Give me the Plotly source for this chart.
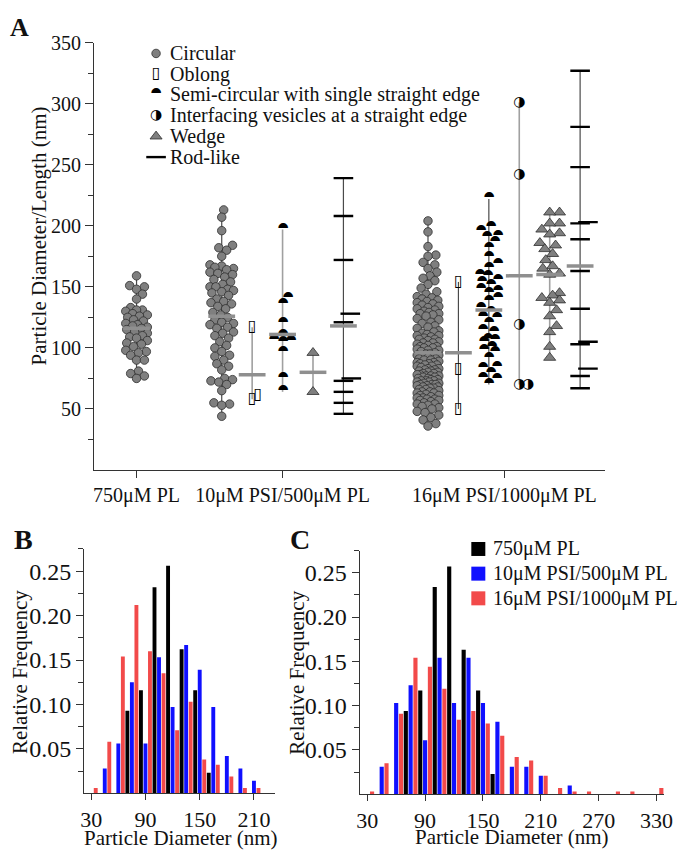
import numpy as np
import plotly.graph_objects as go

# ---------------- Panel A data (particle size, nm) ----------------
group_labels = ["750μM PL", "10μM PSI/500μM PL", "16μM PSI/1000μM PL"]
shape_names = ["Circular", "Oblong", "Semi-circular with single straight edge",
               "Interfacing vesicles at a straight edge", "Wedge", "Rod-like"]

pl750_circular = [159, 151, 150, 148, 144, 140, 133, 131, 131, 130, 128, 127, 126, 125,
                  123, 122, 120, 119, 118, 117, 116, 115, 113, 112, 110, 109, 108, 106,
                  104, 103, 101, 98, 97, 96, 94, 90, 90, 81, 79, 77, 75]

psi10_circular = [213, 207, 196, 184, 182, 180, 175, 168, 167, 166, 165, 164, 162, 161,
                  160, 158, 156, 154, 152, 150, 150, 148, 147, 146, 145, 143, 140, 138,
                  137, 136, 134, 132, 129, 127, 125, 123, 121, 120, 119, 117, 116, 113,
                  112, 110, 108, 105, 102, 100, 97, 94, 93, 90, 87, 85, 82, 75,
                  74, 73, 72, 70, 65, 55, 54, 53, 44]
psi10_oblong = [117, 58, 61]
psi10_semicircular = [197, 140, 135, 120, 110, 106, 105, 104, 96, 75, 64]
psi10_wedge = [96, 64]
psi10_rod = [239, 208, 172, 128, 121, 75, 73, 64, 55, 46]

psi16_circular = [204, 195, 183, 176, 175, 170, 168, 165, 162, 159, 157, 155, 152, 149, 146, 144,
                  142, 141, 140, 139, 138, 137, 136, 135, 134, 133, 132, 131, 130, 129, 128, 128,
                  127, 126, 124, 123, 121, 120, 118, 117, 116, 114, 113,
                  112, 111, 110, 110, 109, 108, 107, 107, 106, 105, 104, 104, 103, 102, 101, 101,
                  100, 100, 99, 98, 98,
                  97, 96, 95, 95, 94, 94, 93, 93, 92, 91, 91, 90, 90, 89, 88, 88, 87, 87, 86, 86,
                  85, 85, 84, 83, 83,
                  82, 82, 81, 81, 80, 80, 79, 79, 78, 78, 77, 77, 77, 76, 76, 75, 75, 74, 74, 73,
                  73, 73, 72, 72, 71, 71, 70, 70, 70, 69, 69, 68, 68,
                  67, 67, 66, 66, 65, 64, 64, 63, 63, 62, 61, 61, 60, 59, 59, 58, 58, 57, 57, 56,
                  55, 54, 54, 53,
                  52, 51, 50, 48, 47, 45, 43, 41, 38, 36]
psi16_oblong = [154, 83, 50]
psi16_semicircular = [222, 198, 195, 191, 190, 186, 181, 174, 168, 165, 159, 158, 155, 153,
                      151, 148, 146, 144, 140, 138, 132, 129, 125, 124, 120, 114, 112, 107,
                      106, 104, 100, 98, 96, 91, 84, 83, 79, 75, 74, 70]
psi16_interfacing = [301, 242, 119, 70, 70]
psi16_wedge = [211, 211, 202, 202, 197, 194, 193, 186, 184, 181, 177, 172, 167, 165,
               161, 160, 145, 143, 141, 139, 137, 131, 126, 118, 113, 101, 92]
psi16_rod = [327, 281, 248, 203, 202, 189, 163, 132, 105, 103, 83, 77, 67]

# group means shown as grey bars
mean_values = [116, 126, 78, 111, 80, 118, 96, 96, 131, 159, 160, 167]

# ---------------- Panel B data (relative frequency) ----------------
series_names = ["750μM PL", "10μM PSI/500μM PL", "16μM PSI/1000μM PL"]
b_bins_750 = [75, 90, 105, 120, 135, 150, 165]
b_freq_750 = [0.093, 0.116, 0.232, 0.256, 0.162, 0.116, 0.023]
b_bins_10 = [45, 60, 75, 90, 105, 120, 135, 150, 165, 180, 195, 210]
b_freq_10 = [0.028, 0.056, 0.125, 0.056, 0.153, 0.097, 0.167, 0.139, 0.097, 0.042, 0.028, 0.014]
b_bins_16 = [30, 45, 60, 75, 90, 105, 120, 135, 150, 165, 180, 195, 210]
b_freq_16 = [0.006, 0.058, 0.154, 0.212, 0.160, 0.135, 0.071, 0.103, 0.038, 0.032, 0.019, 0.006, 0.006]

# ---------------- Panel C data (relative frequency) ----------------
c_bins_750 = [75, 90, 105, 120, 135, 150, 165]
c_freq_750 = [0.094, 0.117, 0.234, 0.257, 0.163, 0.117, 0.023]
c_bins_10 = [45, 60, 75, 90, 105, 120, 135, 150, 165, 180, 195, 210, 240]
c_freq_10 = [0.031, 0.103, 0.123, 0.061, 0.154, 0.103, 0.154, 0.103, 0.082, 0.031, 0.031, 0.021, 0.010]
c_bins_16 = [30, 45, 60, 75, 90, 105, 120, 135, 150, 165, 180, 195, 210, 225, 240, 255, 285, 300, 330]
c_freq_16 = [0.003, 0.035, 0.091, 0.154, 0.144, 0.119, 0.084, 0.094, 0.080, 0.066, 0.042, 0.038,
             0.021, 0.007, 0.003, 0.003, 0.003, 0.003, 0.007]

# ---------------- styling / layout constants ----------------
W, H = 685, 853
SERIF = "Liberation Serif, Times New Roman, serif"
SYM = "DejaVu Sans"
AX = "#333333"
TXT = "#111111"
GREY_FILL = "#7f7f7f"
MEAN_C = "#8f8f8f"
DARK_LINE = "#4a4a4a"
LIGHT_LINE = "#a0a0a0"
BAR_COLORS = ["#000000", "#1010ff", "#f24a4a"]

XPX = (613 - 92) / 16.8   # px per x unit in panel A
YPX = 433 / 350.0         # px per nm in panel A

col_x = [1.39, 4.19, 5.19, 6.19, 7.19, 8.19, 10.97, 11.97, 12.97, 13.97, 14.97, 15.97]
tick_x = [1.39, 6.19, 13.48]


def swarm(values, wx, wy, maxhw):
    vals = np.asarray(values, float)
    order = np.argsort(vals)
    placed = []
    offs = np.zeros(len(vals))
    cands = [0.0]
    for k in range(1, int(maxhw) + 1):
        cands += [float(k), float(-k)]
    for i in order:
        y = vals[i] * YPX
        best, bestd = 0.0, -1.0
        for c in cands:
            dmin = 1e9
            for (px, py) in placed:
                dy = (py - y) / wy
                if abs(dy) >= 1:
                    continue
                d = ((px - c) / wx) ** 2 + dy ** 2
                if d < dmin:
                    dmin = d
            if dmin >= 1:
                best = c
                break
            if dmin > bestd:
                bestd = dmin
                best = c
        placed.append((best, y))
        offs[i] = best
    return offs / XPX


columns = [
    (pl750_circular, "circle", DARK_LINE, 11),
    (psi10_circular, "circle", DARK_LINE, 12),
    (psi10_oblong, "oblong", LIGHT_LINE, 9),
    (psi10_semicircular, "semi", LIGHT_LINE, 9),
    (psi10_wedge, "wedge", LIGHT_LINE, 9),
    (psi10_rod, "rod", DARK_LINE, 8),
    (psi16_circular, "circle", DARK_LINE, 11),
    (psi16_oblong, "oblong", DARK_LINE, 9),
    (psi16_semicircular, "semi", DARK_LINE, 9),
    (psi16_interfacing, "interf", LIGHT_LINE, 9),
    (psi16_wedge, "wedge", LIGHT_LINE, 10),
    (psi16_rod, "rod", DARK_LINE, 8),
]
collide = {"circle": (7.5, 7.5), "oblong": (6, 12), "semi": (11, 7),
           "interf": (10.5, 10), "wedge": (9.5, 9), "rod": (13, 10)}

fig = go.Figure()

# range lines (under markers)
for (vals, kind, lc, mh), cx in zip(columns, col_x):
    fig.add_trace(go.Scatter(x=[cx, cx], y=[min(vals), max(vals)], mode="lines",
                             line=dict(color=lc, width=1.6 if lc == LIGHT_LINE else 1.2),
                             xaxis="x", yaxis="y", showlegend=False, hoverinfo="skip"))


def add_marks(xs, ys, kind, xaxis="x", yaxis="y"):
    if kind == "circle":
        tr = go.Scatter(x=xs, y=ys, mode="markers",
                        marker=dict(symbol="circle", size=8.5, color=GREY_FILL,
                                    line=dict(color="#2e2e2e", width=0.8)))
    elif kind == "wedge":
        tr = go.Scatter(x=xs, y=ys, mode="markers",
                        marker=dict(symbol="triangle-up", size=10.5, color=GREY_FILL,
                                    line=dict(color="#2e2e2e", width=0.8)))
    elif kind == "rod":
        tr = go.Scatter(x=xs, y=ys, mode="markers",
                        marker=dict(symbol="line-ew", size=14,
                                    line=dict(color="#000000", width=2.4)))
    else:
        glyph = {"oblong": "▯", "semi": "⯊", "interf": "◑"}[kind]
        size = {"oblong": 16, "semi": 13, "interf": 14}[kind]
        weight = "bold" if kind == "oblong" else "normal"
        tr = go.Scatter(x=xs, y=ys, mode="text", text=[glyph] * len(xs),
                        textposition="middle center",
                        textfont=dict(family=SYM, size=size, color="#000000", weight=weight))
    tr.update(xaxis=xaxis, yaxis=yaxis, showlegend=False, hoverinfo="skip")
    fig.add_trace(tr)


for (vals, kind, lc, mh), cx in zip(columns, col_x):
    wx, wy = collide[kind]
    offs = swarm(vals, wx, wy, mh)
    add_marks(list(cx + offs), list(vals), kind)

# mean bars
for m, cx in zip(mean_values, col_x):
    fig.add_trace(go.Scatter(x=[cx - 0.44, cx + 0.44], y=[m, m], mode="lines",
                             line=dict(color=MEAN_C, width=3.5),
                             xaxis="x", yaxis="y", showlegend=False, hoverinfo="skip"))

# ---------------- Panels B and C ----------------
for (bins, freq), col in zip([(b_bins_750, b_freq_750), (b_bins_10, b_freq_10), (b_bins_16, b_freq_16)],
                             BAR_COLORS):
    fig.add_trace(go.Bar(x=bins, y=freq, marker=dict(color=col, line=dict(width=0)),
                         xaxis="x2", yaxis="y2", showlegend=False, hoverinfo="skip"))
for (bins, freq), col in zip([(c_bins_750, c_freq_750), (c_bins_10, c_freq_10), (c_bins_16, c_freq_16)],
                             BAR_COLORS):
    fig.add_trace(go.Bar(x=bins, y=freq, marker=dict(color=col, line=dict(width=0)),
                         xaxis="x3", yaxis="y3", showlegend=False, hoverinfo="skip"))

# ---------------- legends drawn on a full-figure pixel overlay ----------------
legA_y = [43, 64, 85, 106, 127, 148]
legA_kinds = ["circle", "oblong", "semi", "interf", "wedge", "rod"]
for yy, kind in zip(legA_y, legA_kinds):
    add_marks([155], [yy], kind, xaxis="x4", yaxis="y4")

annotations = []
for yy, name in zip(legA_y, shape_names):
    annotations.append(dict(x=167, y=yy, xref="x4", yref="y4", text=name, showarrow=False,
                            xanchor="left", yanchor="middle",
                            font=dict(family=SERIF, size=20, color=TXT)))

legC_y = [545, 570, 595]
fig.add_trace(go.Scatter(x=[483.5] * 3, y=legC_y, mode="markers",
                         marker=dict(symbol="square", size=14, color=BAR_COLORS),
                         xaxis="x4", yaxis="y4", showlegend=False, hoverinfo="skip"))
for yy, name in zip(legC_y, series_names):
    annotations.append(dict(x=496, y=yy, xref="x4", yref="y4", text=name, showarrow=False,
                            xanchor="left", yanchor="middle",
                            font=dict(family=SERIF, size=20, color=TXT)))

# panel letters and axis titles
for (x, y, t, s) in [(16, 17, "A", 26), (20, 535, "B", 28), (302, 535, "C", 28)]:
    annotations.append(dict(x=x, y=y, xref="x4", yref="y4", text="<b>%s</b>" % t, showarrow=False,
                            xanchor="center", yanchor="middle",
                            font=dict(family=SERIF, size=s, color=TXT)))
annotations.append(dict(x=36, y=228, xref="x4", yref="y4", text="Particle Diameter/Length (nm)",
                        showarrow=False, textangle=-90, xanchor="center", yanchor="middle",
                        font=dict(family=SERIF, size=21, color=TXT)))
for xx in (17, 299):
    annotations.append(dict(x=xx, y=670, xref="x4", yref="y4", text="Relative Frequency",
                            showarrow=False, textangle=-90, xanchor="center", yanchor="middle",
                            font=dict(family=SERIF, size=21, color=TXT)))
for xx, yy in ((180, 838), (518, 837)):
    annotations.append(dict(x=xx, y=yy, xref="x4", yref="y4", text="Particle Diameter (nm)",
                            showarrow=False, xanchor="center", yanchor="middle",
                            font=dict(family=SERIF, size=21, color=TXT)))

axis_common = dict(showgrid=False, zeroline=False, showline=True, linecolor=AX, linewidth=1.3,
                   ticks="outside", tickcolor=AX, tickwidth=1.2,
                   tickfont=dict(family=SERIF, size=20, color=TXT))
yfreq_ticks = [0.05, 0.10, 0.15, 0.20, 0.25]
yfreq_text = ["0.05", "0.10", "0.15", "0.20", "0.25"]
yfreq_minor = [0.025, 0.075, 0.125, 0.175, 0.225, 0.275]

fig.update_layout(
    width=W, height=H, margin=dict(l=0, r=0, t=0, b=0),
    paper_bgcolor="white", plot_bgcolor="rgba(0,0,0,0)",
    showlegend=False, barmode="group", bargap=0.0, bargroupgap=0.14,
    annotations=annotations,
    xaxis=dict(axis_common, domain=[92 / W, 613 / W], range=[0, 16.8], anchor="y",
               tickvals=tick_x, ticktext=group_labels, ticklen=7),
    yaxis=dict(axis_common, domain=[1 - 465 / H, 1 - 32 / H], range=[0, 350], anchor="x",
               tickvals=[50, 100, 150, 200, 250, 300, 350], ticklen=8,
               minor=dict(tickvals=[25, 75, 125, 175, 225, 275, 325], ticklen=5,
                          tickcolor=AX, tickwidth=1.2, ticks="outside")),
    xaxis2=dict(axis_common, domain=[81.7 / W, 276 / W], range=[22.2, 233], anchor="y2",
                tickvals=[30, 90, 150, 210], ticklen=6,
                tickfont=dict(family=SERIF, size=22, color=TXT)),
    yaxis2=dict(axis_common, domain=[1 - 792.5 / H, 1 - 545 / H], range=[0, 0.275], anchor="x2",
                tickvals=yfreq_ticks, ticktext=yfreq_text, ticklen=7,
                tickfont=dict(family=SERIF, size=24, color=TXT),
                minor=dict(tickvals=yfreq_minor, ticklen=5,
                           tickcolor=AX, tickwidth=1.2, ticks="outside")),
    xaxis3=dict(axis_common, domain=[362.7 / W, 673 / W], range=[22.3, 338], anchor="y3",
                tickvals=[30, 90, 150, 210, 270, 330], ticklen=6,
                tickfont=dict(family=SERIF, size=22, color=TXT)),
    yaxis3=dict(axis_common, domain=[1 - 793.5 / H, 1 - 546.7 / H], range=[0, 0.275], anchor="x3",
                tickvals=yfreq_ticks, ticktext=yfreq_text, ticklen=7,
                tickfont=dict(family=SERIF, size=24, color=TXT),
                minor=dict(tickvals=yfreq_minor, ticklen=5,
                           tickcolor=AX, tickwidth=1.2, ticks="outside")),
    xaxis4=dict(domain=[0, 1], range=[0, W], visible=False, anchor="y4", fixedrange=True),
    yaxis4=dict(domain=[0, 1], range=[H, 0], visible=False, anchor="x4", fixedrange=True),
)

fig.write_html("out.html", config={"displayModeBar": False},
               post_script="document.body.style.margin='0';document.body.style.overflow='hidden';")
